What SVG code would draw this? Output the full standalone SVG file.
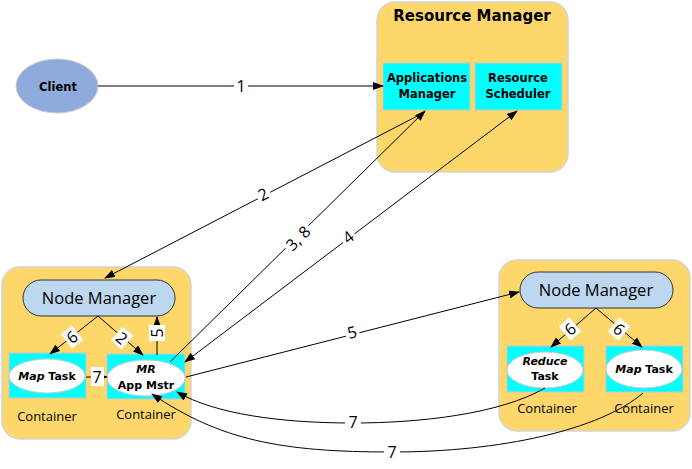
<svg xmlns="http://www.w3.org/2000/svg" width="692" height="469" viewBox="0 0 692 469">
<style>
.grp{fill:#FED76B;stroke:#d4d4d4;stroke-width:1.5}
.cyan{fill:#00FFFF;stroke:#c8c8c8;stroke-width:1}
.ell{fill:#fff;stroke:#c8c8c8;stroke-width:1}
.nm{fill:#BDD7EE;stroke:#333;stroke-width:1}
.b{font-family:"DejaVu Sans",sans-serif;font-weight:bold;fill:#000;text-anchor:middle}
.nmt{font-family:"Open Sans",sans-serif;font-size:16.5px;fill:#000;text-anchor:middle}
.ct{font-family:"Open Sans",sans-serif;font-size:13px;fill:#000;text-anchor:middle}
.ln{fill:none;stroke:#000;stroke-width:1}
.lb{font-family:"Open Sans",sans-serif;font-size:16px;fill:#000;text-anchor:middle}
.lbg{fill:#fff}
</style>
<defs>
<marker id="ah" markerWidth="11" markerHeight="8" refX="10" refY="4" orient="auto" markerUnits="userSpaceOnUse">
<path d="M0,0 L11,4 L0,8 z" fill="#000"/>
</marker>
<marker id="as" markerWidth="11" markerHeight="8" refX="1" refY="4" orient="auto" markerUnits="userSpaceOnUse">
<path d="M11,0 L0,4 L11,8 z" fill="#000"/>
</marker>
</defs>

<g id="resource-manager">
<rect class="grp" x="377" y="2" width="191" height="170" rx="18"/>
<text class="b" x="472" y="21" font-size="15">Resource Manager</text>
</g>
<g id="applications-manager">
<rect class="cyan" x="383" y="63" width="87" height="47"/>
<text class="b" x="427" y="82" font-size="11.5">Applications</text>
<text class="b" x="427" y="98" font-size="11.5">Manager</text>
</g>
<g id="resource-scheduler">
<rect class="cyan" x="475" y="63" width="87" height="47"/>
<text class="b" x="518" y="82" font-size="11.5">Resource</text>
<text class="b" x="518" y="98" font-size="11.5">Scheduler</text>
</g>

<g id="client">
<ellipse cx="57" cy="86" rx="41" ry="27" fill="#8FAADC" stroke="#ccc"/>
<text class="b" x="58" y="91" font-size="11.5">Client</text>
</g>

<g id="node-left">
<rect class="grp" x="2" y="267" width="189" height="172" rx="18"/>
</g>
<g id="node-manager-left">
<rect class="nm" x="23" y="280" width="152" height="36" rx="18"/>
<text class="nmt" x="99" y="304">Node Manager</text>
</g>
<g id="map-task-left">
<rect class="cyan" x="9" y="353" width="77" height="45"/>
<ellipse class="ell" cx="47" cy="376" rx="38" ry="17"/>
<text class="b" x="47" y="380" font-size="11"><tspan font-style="italic">Map</tspan> Task</text>
<text class="ct" x="47" y="421">Container</text>
</g>
<g id="mr-app-master">
<rect class="cyan" x="107" y="354" width="78" height="45"/>
<ellipse class="ell" cx="146" cy="378" rx="39" ry="18"/>
<text class="b" x="146" y="373" font-size="11" font-style="italic">MR</text>
<text class="b" x="146" y="389" font-size="11">App Mstr</text>
<text class="ct" x="146" y="419">Container</text>
</g>

<g id="node-right">
<rect class="grp" x="499" y="260" width="191" height="171" rx="18"/>
</g>
<g id="node-manager-right">
<rect class="nm" x="520" y="272" width="153" height="36" rx="18"/>
<text class="nmt" x="596" y="296">Node Manager</text>
</g>
<g id="reduce-task">
<rect class="cyan" x="507" y="346" width="77" height="46"/>
<ellipse class="ell" cx="545" cy="370" rx="38" ry="18"/>
<text class="b" x="545" y="365" font-size="11" font-style="italic">Reduce</text>
<text class="b" x="545" y="380" font-size="11">Task</text>
<text class="ct" x="547" y="413">Container</text>
</g>
<g id="map-task-right">
<rect class="cyan" x="606" y="346" width="77" height="46"/>
<ellipse class="ell" cx="644" cy="369" rx="38" ry="19"/>
<text class="b" x="644" y="373" font-size="11"><tspan font-style="italic">Map</tspan> Task</text>
<text class="ct" x="644" y="413">Container</text>
</g>

<g id="connectors">
<!-- 1 -->
<path class="ln" d="M98,86 L383,86" marker-end="url(#ah)"/>
<rect class="lbg" x="234" y="77" width="14" height="19"/>
<text class="lb" x="241" y="92">1</text>
<!-- 2 -->
<path class="ln" d="M425,112 L105,278" marker-end="url(#ah)"/>
<g transform="translate(263,194) rotate(-27.5)"><rect class="lbg" x="-7" y="-10" width="14" height="19"/><text class="lb" x="0" y="6">2</text></g>
<!-- 3,8 -->
<path class="ln" d="M170,362 L425,111" marker-end="url(#ah)"/>
<g transform="translate(298,238) rotate(-45)"><rect class="lbg" x="-16" y="-10" width="32" height="19"/><text class="lb" x="0" y="6">3, 8</text></g>
<!-- 4 -->
<path class="ln" d="M185,362 L517,111" marker-start="url(#as)" marker-end="url(#ah)"/>
<g transform="translate(348,237) rotate(-37)"><rect class="lbg" x="-7" y="-10" width="14" height="19"/><text class="lb" x="0" y="6">4</text></g>
<!-- 5 to right NM -->
<path class="ln" d="M186,377 L519,292" marker-end="url(#ah)"/>
<g transform="translate(352,332) rotate(-14)"><rect class="lbg" x="-7" y="-10" width="14" height="19"/><text class="lb" x="0" y="6">5</text></g>
<!-- left NM internals -->
<path class="ln" d="M98,316 L50,354" marker-end="url(#ah)"/>
<g transform="translate(72,337) rotate(-38)"><rect class="lbg" x="-7" y="-9" width="14" height="18"/><text class="lb" x="0" y="6">6</text></g>
<path class="ln" d="M98,316 L143,355" marker-end="url(#ah)"/>
<g transform="translate(122,338) rotate(41)"><rect class="lbg" x="-7" y="-9" width="14" height="18"/><text class="lb" x="0" y="6">2</text></g>
<path class="ln" d="M157,355 L157,317" marker-end="url(#ah)"/>
<g transform="translate(157,333) rotate(-90)"><rect class="lbg" x="-8" y="-8" width="16" height="16"/><text class="lb" x="0" y="6">5</text></g>
<path class="ln" d="M86,377 L107,377" marker-end="url(#ah)"/>
<rect class="lbg" x="91" y="367" width="13" height="19"/>
<text class="lb" x="97" y="383">7</text>
<!-- right NM internals -->
<path class="ln" d="M596,308 L551,347" marker-end="url(#ah)"/>
<g transform="translate(570,329) rotate(-41)"><rect class="lbg" x="-7" y="-9" width="14" height="18"/><text class="lb" x="0" y="6">6</text></g>
<path class="ln" d="M596,308 L642,347" marker-end="url(#ah)"/>
<g transform="translate(619,329) rotate(40)"><rect class="lbg" x="-7" y="-9" width="14" height="18"/><text class="lb" x="0" y="6">6</text></g>
<!-- 7 curves -->
<path class="ln" d="M545,388 C500,414 420,423 353,423 C280,423 215,414 177,392" marker-end="url(#ah)"/>
<rect class="lbg" x="345" y="412" width="16" height="20"/>
<text class="lb" x="353" y="428">7</text>
<path class="ln" d="M643,393 C600,430 500,452 392,452 C280,452 220,440 152,394" marker-end="url(#ah)"/>
<rect class="lbg" x="384" y="442" width="16" height="20"/>
<text class="lb" x="392" y="458">7</text>
</g>
</svg>
